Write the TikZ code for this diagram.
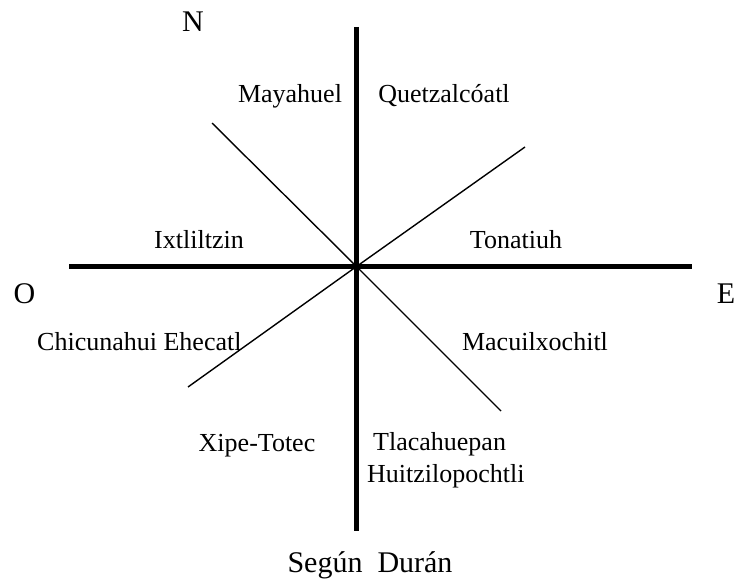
\documentclass[tikz,border=0pt]{standalone}
\usepackage{fontspec}
\setmainfont{Liberation Serif}
\begin{document}
\begin{tikzpicture}[x=1bp,y=-1bp,
  lbl/.style={inner sep=0pt,anchor=base,font=\fontsize{26bp}{31bp}\selectfont},
  big/.style={inner sep=0pt,anchor=base,font=\fontsize{30bp}{36bp}\selectfont},
  axis/.style={line width=5bp},
  diag/.style={line width=1.4bp}]
\useasboundingbox (0,0) rectangle (734,581);
\coordinate (c) at (356.5,266.5);
\coordinate (top) at (356.5,27);
\coordinate (bot) at (356.5,531);
\coordinate (left) at (69,266.5);
\coordinate (right) at (692,266.5);
\coordinate (d1a) at (212,123);
\coordinate (d1b) at (501,411);
\coordinate (d2a) at (525,147);
\coordinate (d2b) at (188,387);
\draw[axis] (top) -- (bot);
\draw[axis] (left) -- (right);
\draw[diag] (d1a) -- (c) -- (d1b);
\draw[diag] (d2a) -- (c) -- (d2b);
\node[big] (n) at (193,32) {N};
\node[big] (o) at (24.5,303) {O};
\node[big] (e) at (726,303) {E};
\node[big] (src) at (370,572) {Según\ \ Durán};
\node[lbl] (may) at (290,103) {Mayahuel};
\node[lbl] (que) at (444,103) {Quetzalcóatl};
\node[lbl] (ixt) at (199,248) {Ixtliltzin};
\node[lbl] (ton) at (516,248) {Tonatiuh};
\node[lbl,anchor=base west] (chi) at (37,350) {Chicunahui Ehecatl};
\node[lbl] (mac) at (535,350) {Macuilxochitl};
\node[lbl] (xip) at (257,451) {Xipe-Totec};
\node[lbl,anchor=base west] (tla) at (373,450) {Tlacahuepan};
\node[lbl,anchor=base west] (hui) at (367,482) {Huitzilopochtli};
\end{tikzpicture}
\end{document}
